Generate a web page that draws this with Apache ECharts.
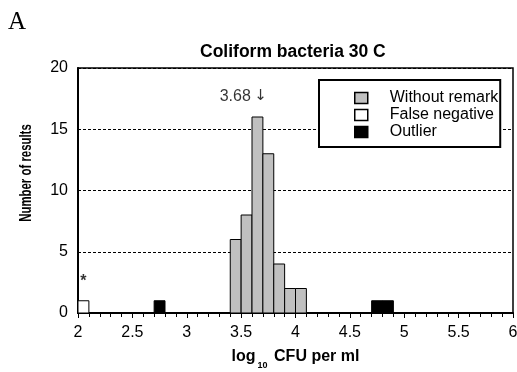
<!DOCTYPE html>
<html>
<head>
<meta charset="utf-8">
<script src="https://cdn.jsdelivr.net/npm/echarts@6/dist/echarts.min.js"></script>
<style>html,body{margin:0;padding:0;background:#fff;}#c{width:517px;height:372px;}</style>
</head>
<body>
<div id="c"></div>
<script>
// ---- data ----
const binWidth = 0.1;
const withoutRemarkBins = [3.4, 3.5, 3.6, 3.7, 3.8, 3.9, 4.0];
const withoutRemarkCounts = [6, 8, 16, 13, 4, 2, 2];
const falseNegativeBins = [2.0];
const falseNegativeCounts = [1];
const outlierBins = [2.7, 4.7, 4.8];
const outlierCounts = [1, 1, 1];
const medianValue = 3.68;
const medianLabelY = 17.7;
const starPoint = [2.05, 2.6];
const xTicks = [2, 2.5, 3, 3.5, 4, 4.5, 5, 5.5, 6];
const yTicks = [0, 5, 10, 15, 20];
const seriesNames = ['Without remark', 'False negative', 'Outlier'];

const FONT = '"Liberation Sans", Arial, sans-serif';

function pairs(bins, counts) { return bins.map((b, i) => [b, counts[i]]); }

function renderBin(params, api) {
  const start = api.value(0);
  const count = api.value(1);
  const p0 = api.coord([start, 0]);
  const p1 = api.coord([start + binWidth, count]);
  return {
    type: 'rect',
    shape: { x: p0[0], y: p1[1], width: p1[0] - p0[0], height: p0[1] - p1[1] },
    style: { fill: api.visual('color'), stroke: '#000', lineWidth: 1 }
  };
}

const colors = ['#c0c0c0', '#ffffff', '#000000'];
const binData = [pairs(withoutRemarkBins, withoutRemarkCounts), pairs(falseNegativeBins, falseNegativeCounts), pairs(outlierBins, outlierCounts)];

const chart = echarts.init(document.getElementById('c'), null, { renderer: 'canvas' });
const option = {
  animation: false,
  backgroundColor: '#fff',
  title: [
    { text: 'Coliform bacteria 30 C', left: 200, top: 43,
      textStyle: { fontFamily: FONT, fontSize: 17.5, fontWeight: 'bold', color: '#000' }, padding: 0 },
    { text: 'A', left: 8, top: 10,
      textStyle: { fontFamily: '"Liberation Serif", "DejaVu Serif", serif', fontSize: 25, fontWeight: 'normal', color: '#000' }, padding: 0 }
  ],
  graphic: [
    { type: 'text', x: 26, y: 173, rotation: Math.PI / 2, scaleX: 0.67, scaleY: 1,
      style: { text: 'Number of results', font: 'bold 17px "Liberation Sans", Arial, sans-serif',
        fill: '#000', align: 'center', verticalAlign: 'middle' } }
  ],
  legend: {
    data: seriesNames,
    orient: 'vertical',
    left: 319, top: 80,
    backgroundColor: '#fff',
    borderColor: '#000', borderWidth: 2, borderRadius: 0,
    padding: [10, 2, 7, 35],
    itemGap: 1,
    itemWidth: 13, itemHeight: 11,
    icon: 'rect',
    itemStyle: { borderColor: '#000', borderWidth: 1.5 },
    textStyle: { fontFamily: FONT, fontSize: 16, color: '#000', padding: [0, 0, 0, 17], lineHeight: 16 }
  },
  grid: { left: 78, right: 4, top: 68, bottom: 59, show: true, borderColor: '#000', borderWidth: 1.5,
    backgroundColor: 'transparent', outerBoundsMode: 'none', containLabel: false },
  xAxis: {
    type: 'value', min: xTicks[0], max: xTicks[xTicks.length - 1], interval: 0.5,
    name: '{a|log}{s|10}{a| CFU per ml}',
    nameLocation: 'middle', nameGap: 34,
    nameTextStyle: {
      rich: {
        a: { fontFamily: FONT, fontSize: 16, fontWeight: 'bold', color: '#000', lineHeight: 18, verticalAlign: 'bottom' },
        s: { fontFamily: FONT, fontSize: 9, fontWeight: 'bold', color: '#000', lineHeight: 18, verticalAlign: 'bottom', padding: [0, 2, -5, 2] }
      }
    },
    axisLine: { lineStyle: { color: '#000', width: 2 } },
    axisTick: { show: true, length: 5, lineStyle: { color: '#000', width: 1 } },
    minorTick: { show: true, splitNumber: 5, length: 4, lineStyle: { color: '#000', width: 1 } },
    axisLabel: { fontFamily: FONT, fontSize: 16, color: '#000', margin: 12,
      formatter: v => String(parseFloat(v.toFixed(1))) },
    splitLine: { show: false }
  },
  yAxis: {
    type: 'value', min: yTicks[0], max: yTicks[yTicks.length - 1], interval: 5,
    axisLine: { show: true, lineStyle: { color: '#000', width: 2 } },
    axisTick: { show: true, inside: true, length: 3, lineStyle: { color: '#000' } },
    axisLabel: { fontFamily: FONT, fontSize: 16, color: '#000', margin: 10 },
    splitLine: { show: true, lineStyle: { color: '#000', type: [3, 2], width: 1 } }
  },
  series: [
    ...seriesNames.map((n, i) => ({
      name: n, type: 'custom', renderItem: renderBin, data: binData[i],
      itemStyle: { color: colors[i], borderColor: '#000', borderWidth: 1 },
      encode: { x: 0, y: 1 }, z: 3
    })),
    {
      name: 'median', type: 'scatter', symbolSize: 0, data: [[medianValue, medianLabelY]],
      label: { show: true, position: 'inside', formatter: '{n|3.68} {r|\u2193}', align: 'right', offset: [6, 0],
        rich: {
          n: { fontFamily: FONT, fontSize: 16, color: '#000' },
          r: { fontFamily: '"DejaVu Sans", sans-serif', fontSize: 15, color: '#000' }
        } }, silent: true
    },
    {
      name: 'star', type: 'scatter', symbolSize: 0, data: [starPoint],
      label: { show: true, position: 'inside', formatter: '*', fontFamily: FONT, fontSize: 16, fontWeight: 'bold', color: '#000' }, silent: true
    }
  ]
};
chart.setOption(option);
</script>
</body>
</html>
